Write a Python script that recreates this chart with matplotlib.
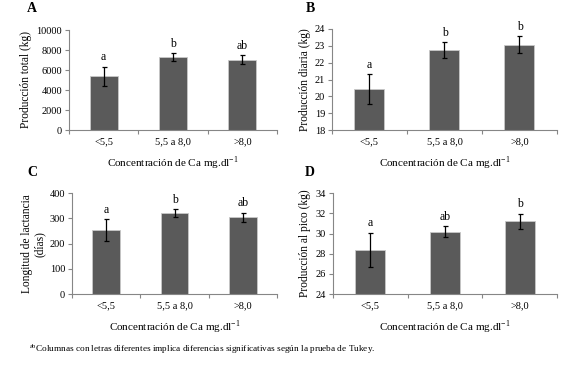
import matplotlib
matplotlib.use("Agg")
import matplotlib.pyplot as plt
from matplotlib.ticker import FixedLocator

plt.rcParams['font.family'] = ['Liberation Serif', 'DejaVu Serif']

categories = ["<5,5", "5,5 a 8,0", ">8,0"]

prod_total = [5400, 7300, 7050]
prod_total_err = [950, 400, 450]
prod_total_letters = ["a", "b", "ab"]

prod_diaria = [20.42, 22.75, 23.07]
prod_diaria_err = [0.88, 0.45, 0.5]
prod_diaria_letters = ["a", "b", "b"]

lactancia = [254, 322, 305]
lactancia_err = [42, 15, 18]
lactancia_letters = ["a", "b", "ab"]

prod_pico = [28.37, 30.2, 31.2]
prod_pico_err = [1.7, 0.55, 0.75]
prod_pico_letters = ["a", "ab", "b"]

W, H = 566, 368
fig = plt.figure(figsize=(W / 100, H / 100), dpi=100)

AX_COL = '#868686'
BAR_COL = '#5a5a5a'


def px_axes(left, top, right, bottom):
    return fig.add_axes([left / W, 1 - bottom / H, (right - left) / W, (bottom - top) / H])


def panel(rect, values, errs, letters, ylim, yticks, ylabel):
    ax = px_axes(*rect)
    x = list(range(len(categories)))
    ax.bar(x, values, width=0.4, color=BAR_COL, edgecolor='#c8c8c8', linewidth=0.6, zorder=2)
    ax.errorbar(x, values, yerr=errs, fmt='none', ecolor='black', elinewidth=0.9,
                capsize=1.8, capthick=0.9, zorder=3)
    for xi, v, e, t in zip(x, values, errs, letters):
        ax.annotate(t, (xi, v + e), xytext=(0, 2.5), textcoords='offset points',
                    ha='center', va='bottom', fontsize=8.5)
    ax.set_xlim(-0.5, len(categories) - 0.5)
    ax.set_ylim(*ylim)
    ax.set_yticks(yticks)
    ax.set_xticks(x)
    ax.set_xticklabels(categories, fontsize=7.5)
    ax.xaxis.set_minor_locator(FixedLocator([i - 0.5 for i in range(len(categories) + 1)]))
    ax.tick_params(axis='x', which='major', length=0, pad=5)
    ax.tick_params(axis='x', which='minor', length=3, color=AX_COL, width=0.8)
    ax.tick_params(axis='y', length=3, color=AX_COL, width=0.8, labelsize=7.5, pad=2)
    for s in ['top', 'right']:
        ax.spines[s].set_visible(False)
    for s in ['left', 'bottom']:
        ax.spines[s].set_color(AX_COL)
        ax.spines[s].set_linewidth(0.8)
    ax.set_ylabel(ylabel, fontsize=8.3, labelpad=3, linespacing=1.0)
    ax.set_xlabel("Concentración de Ca mg.dl$^{\\mathregular{-1}}$", fontsize=8, labelpad=6)
    return ax


panel((69, 30, 277, 130), prod_total, prod_total_err, prod_total_letters,
      (0, 10000), [0, 2000, 4000, 6000, 8000, 10000], "Producción total (kg)")
panel((332, 29, 557, 130), prod_diaria, prod_diaria_err, prod_diaria_letters,
      (18, 24), [18, 19, 20, 21, 22, 23, 24], "Producción diaria (kg)")
panel((72, 193.3, 277, 294), lactancia, lactancia_err, lactancia_letters,
      (0, 400), [0, 100, 200, 300, 400], "Longitud de lactancia\n(días)")
panel((332.5, 193.3, 557.5, 294), prod_pico, prod_pico_err, prod_pico_letters,
      (24, 34), [24, 26, 28, 30, 32, 34], "Producción al pico (kg)")

for lbl, (px, py) in zip("ABCD", [(32, 8), (310, 8), (32, 173), (310, 173)]):
    fig.text(px / W, 1 - py / H, lbl, fontsize=10, fontweight='bold', ha='center', va='center')

fig.text(29 / W, 1 - 349 / H, "$^{\\mathregular{ab}}$Columnas con letras diferentes implica diferencias significativas según la prueba de Tukey.",
         fontsize=6.7, ha='left', va='center')

fig.savefig("out.png", dpi=100)
